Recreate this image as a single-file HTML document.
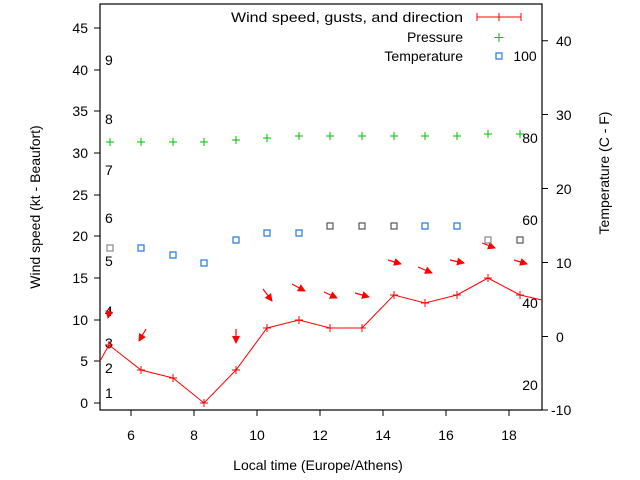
<!DOCTYPE html>
<html><head><meta charset="utf-8"><style>body{margin:0;background:#fff}svg{display:block}text{font-family:"Liberation Sans",sans-serif;font-size:14px;fill:#000}</style></head><body>
<svg width="640" height="480" viewBox="0 0 640 480" xmlns="http://www.w3.org/2000/svg">
<defs><marker id="ah" markerWidth="8" markerHeight="8" refX="7" refY="4" orient="auto" markerUnits="userSpaceOnUse"><path d="M0,0 L8,4 L0,8 Z" fill="#f00"/></marker></defs>
<rect x="100" y="4" width="442" height="406" fill="none" stroke="#000" stroke-width="1.2"/>
<g stroke="#000" stroke-width="1">
<path d="M94,403h6M94,361h6M94,320h6M94,278h6M94,236h6M94,195h6M94,153h6M94,111h6M94,70h6M94,28h6"/>
<path d="M542,40.7h6M542,114.5h6M542,188.5h6M542,262.5h6M542,336.5h6M542,410h6"/>
<path d="M131,410v6M194,410v6M257,410v6M320,410v6M383,410v6M446,410v6M509,410v6"/>
</g>
<g text-anchor="end">
<text x="88" y="408">0</text><text x="88" y="366">5</text><text x="88" y="325">10</text><text x="88" y="283">15</text><text x="88" y="241">20</text><text x="88" y="200">25</text><text x="88" y="158">30</text><text x="88" y="116">35</text><text x="88" y="75">40</text><text x="88" y="33">45</text>
</g>
<g text-anchor="start">
<text x="556" y="46">40</text><text x="556" y="120">30</text><text x="556" y="194">20</text><text x="556" y="268">10</text><text x="556" y="342">0</text><text x="551" y="415">-10</text>
</g>
<g text-anchor="middle">
<text x="131" y="440">6</text><text x="194" y="440">8</text><text x="257" y="440">10</text><text x="320" y="440">12</text><text x="383" y="440">14</text><text x="446" y="440">16</text><text x="509" y="440">18</text>
<text x="318" y="470">Local time (Europe/Athens)</text>
</g>
<text transform="translate(40,207) rotate(-90)" text-anchor="middle">Wind speed (kt - Beaufort)</text>
<text transform="translate(609,173) rotate(-90)" text-anchor="middle">Temperature (C - F)</text>
<g>
<text x="105" y="398">1</text><text x="105" y="373">2</text><text x="105" y="348">3</text><text x="105" y="316">4</text><text x="105" y="266">5</text><text x="105" y="223">6</text><text x="105" y="175">7</text><text x="105" y="124">8</text><text x="105" y="65">9</text>
</g>
<g text-anchor="middle">
<text x="530" y="390">20</text><text x="530" y="308">40</text><text x="530" y="225">60</text><text x="530" y="143">80</text><text x="525" y="61">100</text>
</g>
<g text-anchor="end" style="font-size:15px">
<text x="463" y="22" textLength="232" lengthAdjust="spacingAndGlyphs">Wind speed, gusts, and direction</text>
<text x="463" y="42">Pressure</text>
<text x="463" y="61">Temperature</text>
</g>
<path d="M477,17h44M477,13v8M499,13v8M521,13v8" stroke="#f00" fill="none"/>
<path d="M499,33v9M494.5,37.5h9" stroke="#0b0"/>
<rect x="496" y="53" width="6" height="6" fill="none" stroke="#1e78e6" stroke-width="1.2"/>
<polyline fill="none" stroke="#f00" stroke-width="1" points="100,361 109,345 141,370 173,378 204,403 236,370 267,328 299,320 330,328 362,328 394,295 425,303 457,295 488,278 520,295 542,300"/>
<g stroke="#f00" stroke-width="1">
<path d="M105,345h8M109,341v8M137,370h8M141,366v8M169,378h8M173,374v8M200,403h8M204,399v8M232,370h8M236,366v8M263,328h8M267,324v8M295,320h8M299,316v8M326,328h8M330,324v8M358,328h8M362,324v8M390,295h8M394,291v8M421,303h8M425,299v8M453,295h8M457,291v8M484,278h8M488,274v8M516,295h8M520,291v8"/>
</g>
<g stroke="#f00" stroke-width="1.2" marker-end="url(#ah)" fill="none">
<path d="M110,308L108,318"/><path d="M146,329L139,341"/><path d="M236,329L236,343"/>
<path d="M263,289L272,301"/><path d="M292,284L305,291"/><path d="M324,292L337,298"/><path d="M355,293L369,297"/>
<path d="M388,260L401,264"/><path d="M418,267L432,273"/><path d="M450,260L464,263"/><path d="M482,243L495,248"/><path d="M514,260L527,264"/>
</g>
<g stroke="#0b0" stroke-width="1">
<path d="M110,138v8M106,142h8M141,138v8M137,142h8M173,138v8M169,142h8M204,138v8M200,142h8M236,136v8M232,140h8M267,134v8M263,138h8M299,132v8M295,136h8M330,132v8M326,136h8M362,132v8M358,136h8M394,132v8M390,136h8M425,132v8M421,136h8M457,132v8M453,136h8M488,130v8M484,134h8M520,130v8M516,134h8"/>
</g>
<g fill="none" stroke="#1e78e6" stroke-width="1.2">
<rect x="107" y="245" width="6" height="6" stroke="#888"/><rect x="138" y="245" width="6" height="6"/><rect x="170" y="252" width="6" height="6"/><rect x="201" y="260" width="6" height="6"/><rect x="233" y="237" width="6" height="6"/><rect x="264" y="230" width="6" height="6"/><rect x="296" y="230" width="6" height="6"/><rect x="327" y="223" width="6" height="6" stroke="#555"/><rect x="359" y="223" width="6" height="6" stroke="#555"/><rect x="391" y="223" width="6" height="6" stroke="#555"/><rect x="422" y="223" width="6" height="6"/><rect x="454" y="223" width="6" height="6"/><rect x="485" y="237" width="6" height="6" stroke="#888"/><rect x="517" y="237" width="6" height="6" stroke="#555"/>
</g>
</svg>
</body></html>
